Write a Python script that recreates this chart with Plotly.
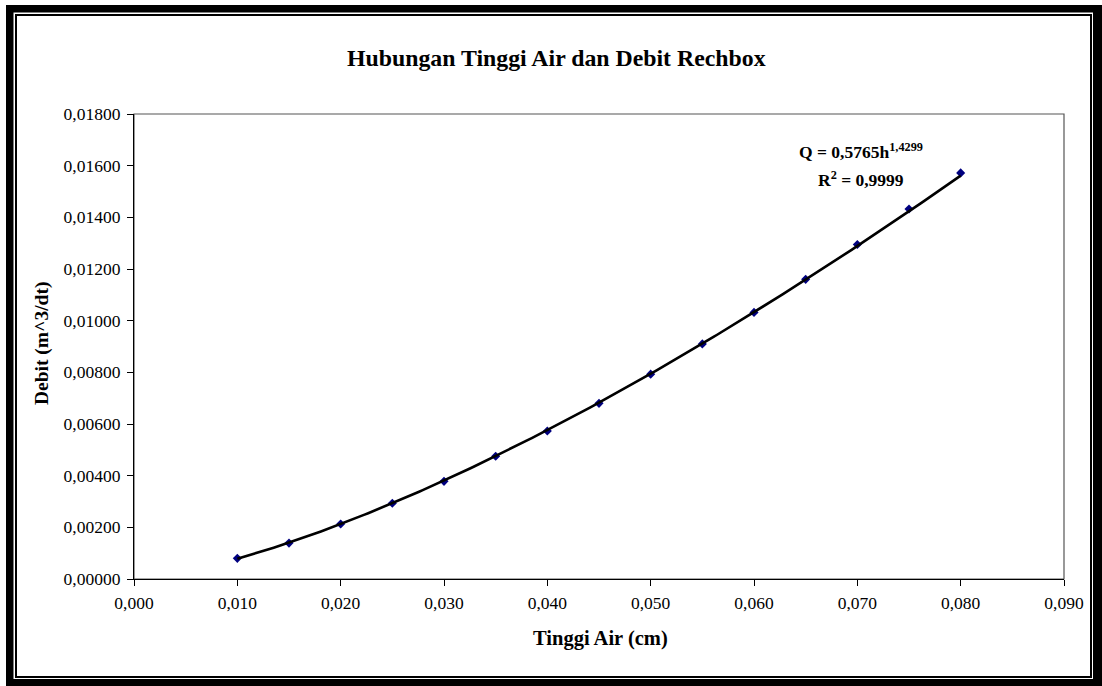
import numpy as np
import plotly.graph_objects as go

# ---- data ----
tinggi_air = [0.010, 0.015, 0.020, 0.025, 0.030, 0.035, 0.040, 0.045,
              0.050, 0.055, 0.060, 0.065, 0.070, 0.075, 0.080]
debit = [0.00080, 0.00139, 0.00213, 0.00293, 0.00378, 0.00475, 0.00573, 0.00680,
         0.00793, 0.00910, 0.01032, 0.01160, 0.01295, 0.01432, 0.01572]
x_ticks = [0.000, 0.010, 0.020, 0.030, 0.040, 0.050, 0.060, 0.070, 0.080, 0.090]
y_ticks = [0.000, 0.002, 0.004, 0.006, 0.008, 0.010, 0.012, 0.014, 0.016, 0.018]
title_text = "Hubungan Tinggi Air dan Debit Rechbox"
x_title = "Tinggi Air (cm)"
y_title = "Debit (m^3/dt)"
eq_text = "Q = 0,5765h<sup>1,4299</sup>"
r2_text = "R<sup>2</sup> = 0,9999"

# ---- power trendline fitted from the data (as the spreadsheet does) ----
xa = np.array(tinggi_air)
ya = np.array(debit)
b, lna = np.polyfit(np.log(xa), np.log(ya), 1)
xt = np.linspace(xa.min(), xa.max(), 200)
yt = np.exp(lna) * xt ** b

W, H = 1102, 686
L, R, T, B = 134, 1064, 114, 579


def px(x):
    return (x - L) / (R - L)


def py(y):
    return (B - y) / (B - T)


FONT = "Times New Roman, Liberation Serif, serif"

fig = go.Figure()
fig.add_trace(go.Scatter(x=tinggi_air, y=debit, mode="markers",
                         marker=dict(symbol="diamond", size=7, color="#000080"),
                         showlegend=False, cliponaxis=False))
fig.add_trace(go.Scatter(x=xt, y=yt, mode="lines",
                         line=dict(color="black", width=2.6),
                         showlegend=False))

shapes = [
    # thick outer frame
    dict(type="rect", xref="paper", yref="paper", x0=px(6), x1=px(1102), y0=py(5), y1=py(686),
         fillcolor="black", line=dict(width=0), layer="below"),
    dict(type="rect", xref="paper", yref="paper", x0=px(13.5), x1=px(1093), y0=py(12.5), y1=py(679),
         fillcolor="white", line=dict(width=0), layer="below"),
    # thin inner line
    dict(type="rect", xref="paper", yref="paper", x0=px(16), x1=px(1091), y0=py(15), y1=py(677),
         line=dict(color="black", width=2), layer="below"),
    # plot area border
    dict(type="rect", xref="paper", yref="paper", x0=0, x1=1, y0=0, y1=1,
         line=dict(color="#555555", width=1.2), layer="below"),
]

annotations = [
    dict(text="<b>%s</b>" % title_text, x=px(556), y=py(58), xref="paper", yref="paper",
         showarrow=False, xanchor="center", yanchor="middle", font=dict(family=FONT, size=23.8, color="black")),
    dict(text="<b>%s</b>" % x_title, x=px(600), y=py(638), xref="paper", yref="paper",
         showarrow=False, xanchor="center", yanchor="middle", font=dict(family=FONT, size=20.5, color="black")),
    dict(text="<b>%s</b>" % y_title, x=px(42), y=py(344), xref="paper", yref="paper", textangle=-90,
         showarrow=False, xanchor="center", yanchor="middle", font=dict(family=FONT, size=19.5, color="black")),
    dict(text="<b>%s</b>" % eq_text, x=px(861), y=py(151), xref="paper", yref="paper",
         showarrow=False, xanchor="center", yanchor="middle", font=dict(family=FONT, size=17.5, color="black")),
    dict(text="<b>%s</b>" % r2_text, x=px(861), y=py(179), xref="paper", yref="paper",
         showarrow=False, xanchor="center", yanchor="middle", font=dict(family=FONT, size=17.5, color="black")),
]

fig.update_layout(
    width=W, height=H,
    margin=dict(l=L, r=W - R, t=T, b=H - B, pad=0),
    paper_bgcolor="white", plot_bgcolor="white",
    separators=", ",
    font=dict(family=FONT, size=17, color="black"),
    shapes=shapes, annotations=annotations,
    showlegend=False,
)
fig.update_xaxes(range=[0, 0.09], tickvals=x_ticks, tickformat=".3f",
                 showgrid=False, zeroline=False, showline=True, linecolor="black", linewidth=1.2,
                 ticks="outside", ticklen=6, tickcolor="black", tickwidth=1, ticklabelstandoff=2,
                 tickfont=dict(family=FONT, size=17.5, color="black"))
fig.update_yaxes(range=[0, 0.018], tickvals=y_ticks, tickformat=".5f",
                 showgrid=False, zeroline=False, showline=True, linecolor="black", linewidth=1.2,
                 ticks="outside", ticklen=6, tickcolor="black", tickwidth=1, ticklabelstandoff=3,
                 tickfont=dict(family=FONT, size=17.5, color="black"))

fig.write_html("out.html")
